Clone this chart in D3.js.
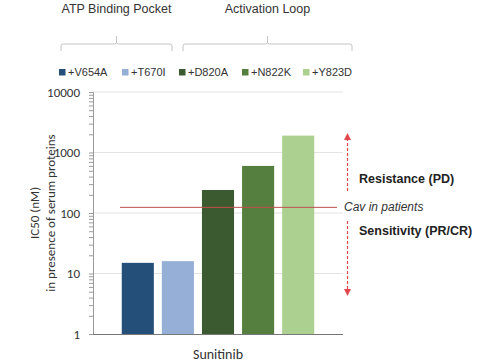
<!DOCTYPE html>
<html><head><meta charset="utf-8">
<script src="https://cdn.jsdelivr.net/npm/d3@7"></script>
<style>body{margin:0;background:#fff}svg{display:block}</style>
</head><body>
<svg id="c" width="484" height="363"></svg>
<script>
const categories = ["Sunitinib"];
const mutations = ["+V654A", "+T670I", "+D820A", "+N822K", "+Y823D"];
const values = [15, 16, 240, 600, 1900];
const colors = ["#244f78", "#95afd6", "#3c5a2f", "#557f3e", "#abd08f"];
const yTicks = [1, 10, 100, 1000, 10000];
const cavValue = 124;
const groups = [
  {name: "ATP Binding Pocket", members: ["+V654A", "+T670I"]},
  {name: "Activation Loop", members: ["+D820A", "+N822K", "+Y823D"]}
];

const svg = d3.select("#c");
const L = 93, R = 343, T = 92, B = 334;
const y = d3.scaleLog().domain([1, 10000]).range([B, T]);
const x0 = d3.scaleBand().domain(categories).range([L, R]).padding(0.13);
const x1 = d3.scaleBand().domain(mutations).range([0, x0.bandwidth()]).paddingInner(0.2);

// gridlines
svg.append("g").selectAll("line").data(yTicks.slice(1)).join("line")
  .attr("x1", L).attr("x2", R).attr("y1", d => y(d)).attr("y2", d => y(d))
  .attr("stroke", "#e3e3e3").attr("stroke-width", 1);

// bars
const g = svg.append("g").attr("transform", `translate(${x0(categories[0])},0)`);
g.selectAll("rect").data(values).join("rect")
  .attr("x", (d, i) => x1(mutations[i]))
  .attr("width", x1.bandwidth())
  .attr("y", d => y(d))
  .attr("height", d => B - y(d))
  .attr("fill", (d, i) => colors[i]);

// y axis
const minor = [];
for (let e = 0; e < 4; e++) for (let m = 1; m <= 9; m++) minor.push(m * Math.pow(10, e));
minor.push(10000);
const yAxis = d3.axisLeft(y).tickValues(minor).tickSize(4)
  .tickFormat(d => yTicks.includes(d) ? String(d) : "");
const ya = svg.append("g").attr("transform", `translate(${L},0)`).call(yAxis);
ya.select(".domain").attr("stroke", "#9a9a9a");
ya.selectAll(".tick line").attr("stroke", "#9a9a9a");
ya.selectAll("text").attr("font-family", "Carlito, Lato, sans-serif").attr("font-size", 13).attr("fill", "#333").attr("x", -13);

// x axis
const xa = svg.append("g").attr("transform", `translate(0,${B})`).call(d3.axisBottom(x0).tickSize(0));
xa.select(".domain").attr("stroke", "#777").attr("d", `M${L},0.5H${R}`);
xa.selectAll("text").attr("font-family", "Carlito, Lato, sans-serif").attr("font-size", 14).attr("fill", "#333").attr("dy", "1.55em");

// y title
const yt = svg.append("text").attr("transform", `translate(39,${(T + B) / 2}) rotate(-90)`)
  .attr("text-anchor", "middle").attr("font-family", "Carlito, Lato, sans-serif").attr("font-size", 13).attr("fill", "#333");
yt.append("tspan").attr("x", 0).attr("dy", 0).text("IC50 (nM)");
yt.append("tspan").attr("x", 0).attr("dy", 16).text("in presence of serum proteins");

// Cav line
svg.append("line").attr("x1", 120).attr("x2", 337).attr("y1", y(cavValue)).attr("y2", y(cavValue))
  .attr("stroke", "#c0504d").attr("stroke-width", 1);
svg.append("text").attr("x", 344).attr("y", y(cavValue) + 4).attr("font-family", "'Liberation Sans', Arial, sans-serif")
  .attr("font-style", "italic").attr("font-size", 12).attr("fill", "#333").text("Cav in patients");

// arrows
const ax = 347.5, red = "#e0484c";
svg.append("line").attr("x1", ax).attr("x2", ax).attr("y1", 138).attr("y2", 192)
  .attr("stroke", red).attr("stroke-dasharray", "3,2").attr("stroke-width", 1.2);
svg.append("line").attr("x1", ax).attr("x2", ax).attr("y1", 221).attr("y2", 290)
  .attr("stroke", red).attr("stroke-dasharray", "3,2").attr("stroke-width", 1.2);
svg.append("path").attr("d", `M${ax},133L${ax - 3.5},140L${ax + 3.5},140Z`).attr("fill", red);
svg.append("path").attr("d", `M${ax},296L${ax - 3.5},289L${ax + 3.5},289Z`).attr("fill", red);

svg.append("text").attr("x", 359).attr("y", 183).attr("font-family", "'Liberation Sans', Arial, sans-serif")
  .attr("font-weight", "bold").attr("font-size", 12.5).attr("fill", "#222").text("Resistance (PD)");
svg.append("text").attr("x", 359).attr("y", 235).attr("font-family", "'Liberation Sans', Arial, sans-serif")
  .attr("font-weight", "bold").attr("font-size", 12.5).attr("fill", "#222").text("Sensitivity (PR/CR)");

// legend
const legX = [59, 122, 179, 242, 303];
const legY = 69;
const leg = svg.append("g").selectAll("g").data(mutations).join("g")
  .attr("transform", (d, i) => `translate(${legX[i]},${legY})`);
leg.append("rect").attr("width", 6.5).attr("height", 6.5).attr("fill", (d, i) => colors[i]);
leg.append("text").attr("x", 9).attr("y", 7).attr("font-family", "'Liberation Sans', Arial, sans-serif")
  .attr("font-size", 11).attr("fill", "#333").text(d => d);

// group brackets
const brackets = [[61, 172], [183, 352]];
groups.forEach((gr, i) => {
  const [a, b] = brackets[i], m = (a + b) / 2;
  svg.append("path").attr("d", `M${a},51V46Q${a},44 ${a + 2},44H${m - 2}Q${m},44 ${m},42V36M${m},42Q${m},44 ${m + 2},44H${b - 2}Q${b},44 ${b},46V51`)
    .attr("fill", "none").attr("stroke", "#c4c4c4").attr("stroke-width", 1);
  svg.append("text").attr("x", m).attr("y", 13).attr("text-anchor", "middle")
    .attr("font-family", "'Liberation Sans', Arial, sans-serif").attr("font-size", 12.5).attr("fill", "#333").text(gr.name);
});
</script>
</body></html>
